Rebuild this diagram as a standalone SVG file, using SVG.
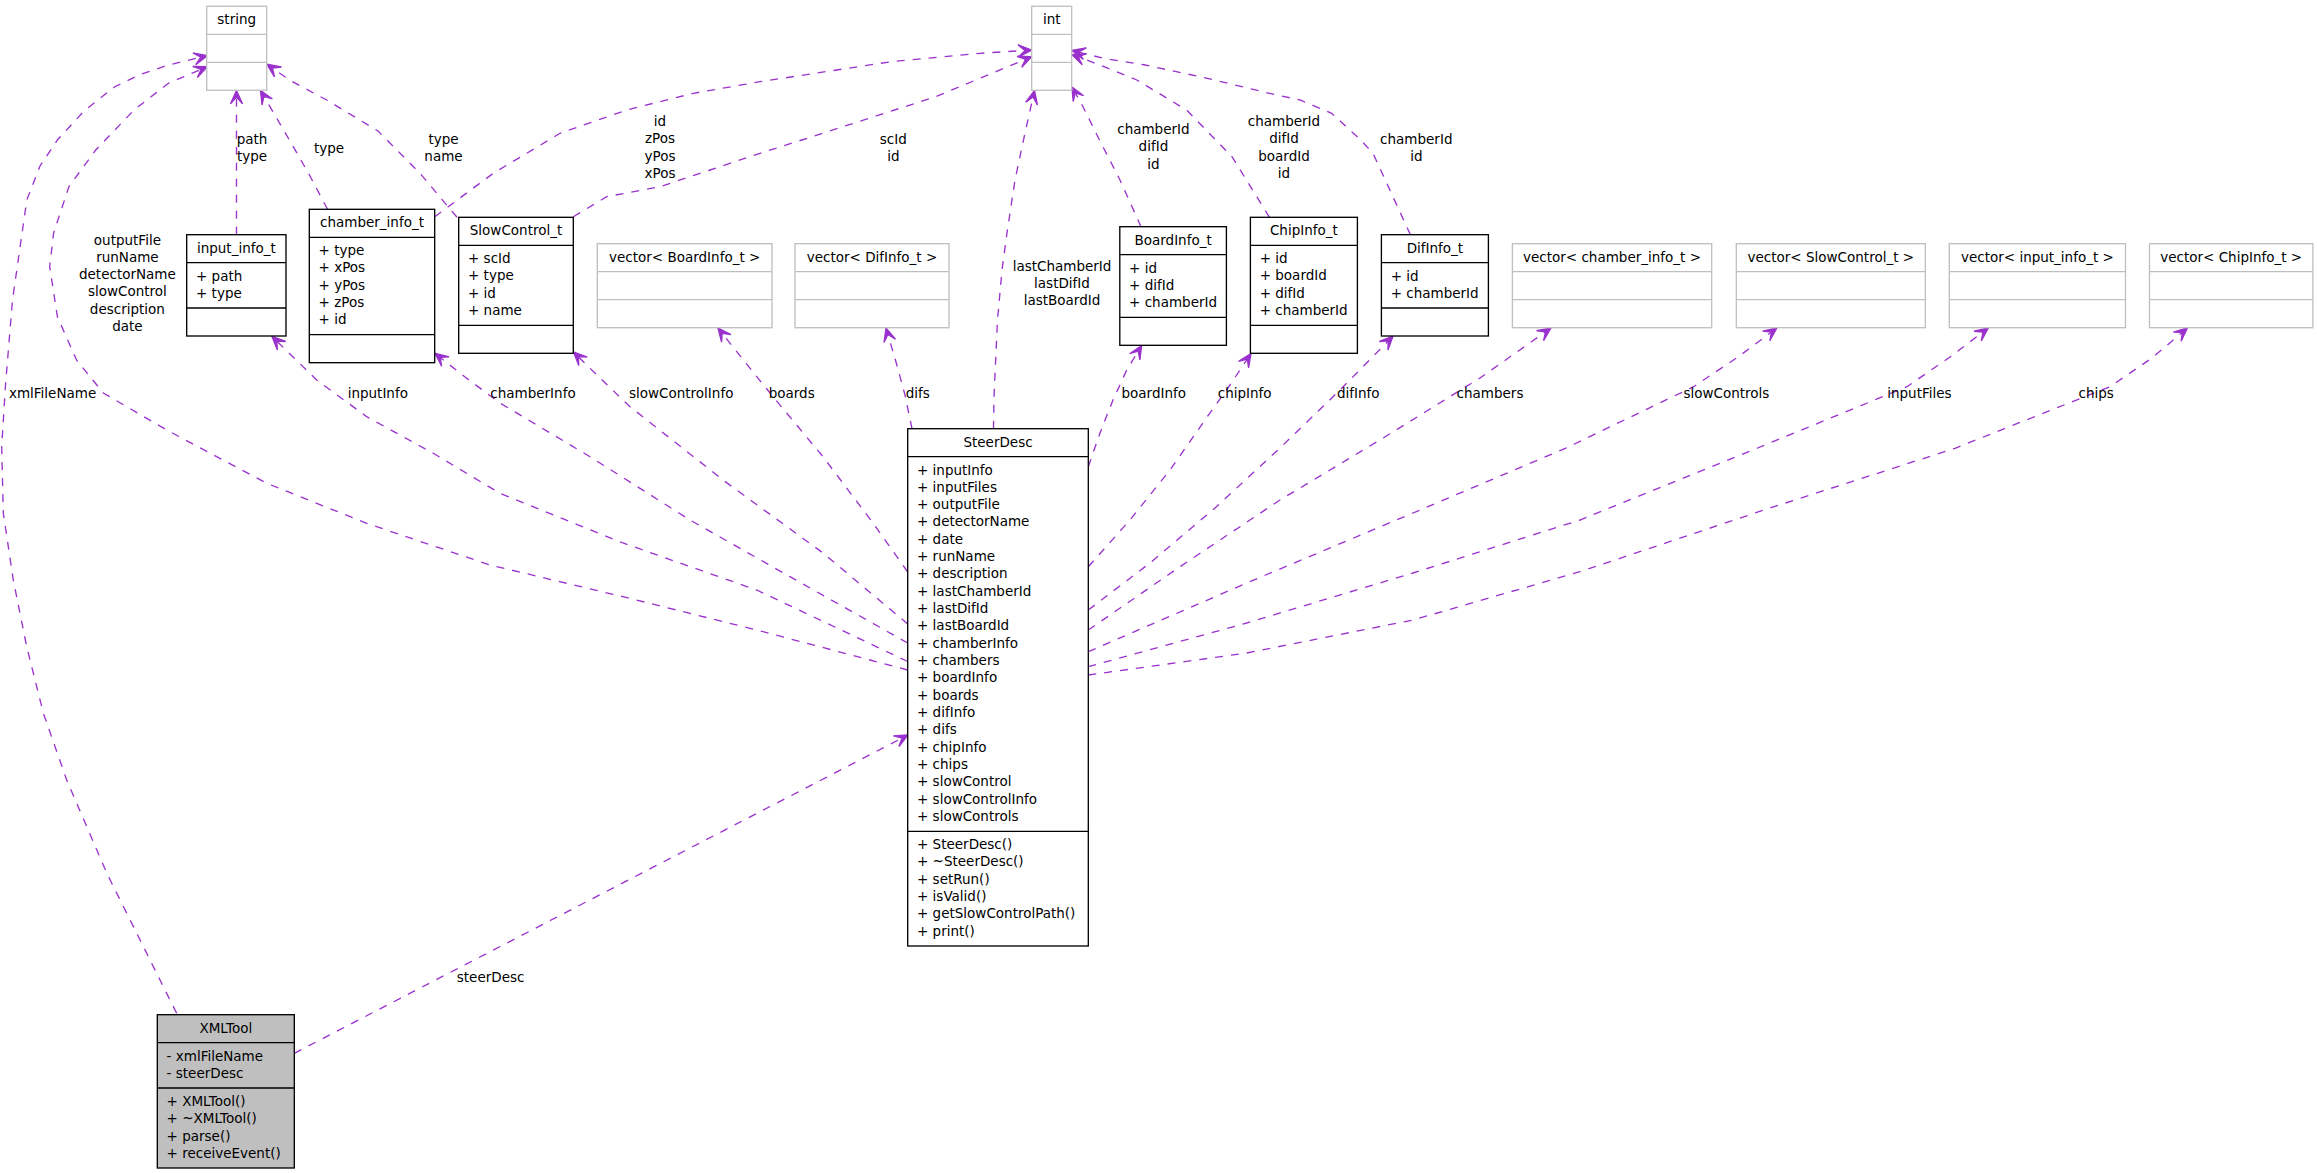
<svg xmlns="http://www.w3.org/2000/svg" width="2317" height="1173" viewBox="0 0 2317 1173">
<defs>
<style>
text{font-family:"DejaVu Sans","Liberation Sans",sans-serif;font-size:13.5px;fill:#000}
.node rect,.node line{fill:#fff;stroke:#000;stroke-width:1.33}
.ext rect,.ext line{stroke:#bfbfbf}
#node-XMLTool rect{fill:#bfbfbf}
.hd{text-anchor:middle}
.edge path{fill:none;stroke:#9a32cd;stroke-width:1.33;stroke-dasharray:8,8;marker-end:url(#vee)}
.edge text{text-anchor:middle}
</style>
<marker id="vee" viewBox="-15 -8 17 16" refX="0" refY="0" markerWidth="17" markerHeight="16" orient="auto" markerUnits="userSpaceOnUse">
<path d="M0,0 L-13.33,-6 L-6.67,0 L-13.33,6 Z" fill="#9a32cd" stroke="#9a32cd" stroke-width="1.33" stroke-dasharray="none"/>
</marker>
</defs>
<rect x="0" y="0" width="2317" height="1173" fill="#fff"/>

<g id="connectors">
<g class="edge" id="e-xmltool-string"><path d="M176.7,1013.3 L170,1000 L106.7,873 L66.7,780 L43.3,713 L26.7,646.7 L13.3,580 L3.3,513 L1.7,446.7 L5.5,385 L12.5,300 L26.8,200 L40,166 L57.4,140 L84,111 L114.8,86.7 L140.5,74.5 L168.4,65 L207.3,55.7"/><text x="52.6" y="398">xmlFileName</text></g>
<g class="edge" id="e-steer-string"><path d="M907.7,670 L756.7,630 L623,596.7 L490,565 L366.7,523.3 L266.7,483.3 L166.7,430 L103.3,393 L76.5,360 L57.4,316.7 L49.7,266.7 L53.6,233 L68.9,186.7 L95.7,150 L134,110 L168.4,83.3 L207.3,66.7"/><text x="127.4" y="244.5"><tspan x="127.4">outputFile</tspan><tspan x="127.4" dy="17.33">runName</tspan><tspan x="127.4" dy="17.33">detectorName</tspan><tspan x="127.4" dy="17.33">slowControl</tspan><tspan x="127.4" dy="17.33">description</tspan><tspan x="127.4" dy="17.33">date</tspan></text></g>
<g class="edge" id="e-input-string"><path d="M236.5,234.7 L236.5,90.5"/><text x="252" y="143.6"><tspan x="252">path</tspan><tspan x="252" dy="17.33">type</tspan></text></g>
<g class="edge" id="e-chamber-string"><path d="M327.5,209.3 L310,176 L293.3,146.7 L276,117 L260.5,90.5"/><text x="329" y="152.6">type</text></g>
<g class="edge" id="e-slow-string"><path d="M457,217.3 L420,173.3 L378,131 L326.7,100 L291,81 L267,64.3"/><text x="443.5" y="143.6"><tspan x="443.5">type</tspan><tspan x="443.5" dy="17.33">name</tspan></text></g>
<g class="edge" id="e-chamber-int"><path d="M434.7,216.7 L493.3,173.3 L560,133.3 L626.7,110 L693.3,93.3 L760,81.7 L891,61.7 L980,53.3 L1031.7,50"/><text x="660" y="126"><tspan x="660">id</tspan><tspan x="660" dy="17.33">zPos</tspan><tspan x="660" dy="17.33">yPos</tspan><tspan x="660" dy="17.33">xPos</tspan></text></g>
<g class="edge" id="e-slow-int"><path d="M573.3,216.7 L606.7,196.7 L660,186.7 L710,170 L760,153.3 L801.8,140 L935.7,96.7 L1031.7,56.7"/><text x="893.3" y="143.6"><tspan x="893.3">scId</tspan><tspan x="893.3" dy="17.33">id</tspan></text></g>
<g class="edge" id="e-steer-int"><path d="M993.5,428.7 L994,397 L997.5,320 L1002,270 L1007,233 L1015,180 L1025,133 L1034.5,90.5"/><text x="1062" y="270.5"><tspan x="1062">lastChamberId</tspan><tspan x="1062" dy="17.33">lastDifId</tspan><tspan x="1062" dy="17.33">lastBoardId</tspan></text></g>
<g class="edge" id="e-board-int"><path d="M1141,226.7 L1120,180 L1099.5,140 L1083,106.7 L1071.9,87"/><text x="1153.4" y="134"><tspan x="1153.4">chamberId</tspan><tspan x="1153.4" dy="17.33">difId</tspan><tspan x="1153.4" dy="17.33">id</tspan></text></g>
<g class="edge" id="e-chip-int"><path d="M1269.5,217.3 L1232,156.7 L1186.6,110 L1136.8,80 L1095.4,63.3 L1071.9,54.5"/><text x="1284" y="126"><tspan x="1284">chamberId</tspan><tspan x="1284" dy="17.33">difId</tspan><tspan x="1284" dy="17.33">boardId</tspan><tspan x="1284" dy="17.33">id</tspan></text></g>
<g class="edge" id="e-dif-int"><path d="M1410.4,234.7 L1373,153.3 L1360.7,140 L1331.7,113.3 L1300,100 L1269.5,93.3 L1207.3,78.3 L1145.1,65 L1103.6,58.3 L1071.9,50.5"/><text x="1416.3" y="143.6"><tspan x="1416.3">chamberId</tspan><tspan x="1416.3" dy="17.33">id</tspan></text></g>
<g class="edge" id="e-steer-input"><path d="M907.7,661.5 L756.7,590 L623,543 L500,493.3 L433.3,453.3 L366.7,416.7 L316.7,380 L272,336.5"/><text x="377.8" y="398">inputInfo</text></g>
<g class="edge" id="e-steer-chamber"><path d="M907.7,643 L790,576.7 L690,520 L590,456.7 L500,403 L465,377 L434.9,353.3"/><text x="533" y="398">chamberInfo</text></g>
<g class="edge" id="e-steer-slow"><path d="M907.7,624 L823,553 L723,480 L630,406.7 L600,378 L573.5,352"/><text x="681.2" y="398">slowControlInfo</text></g>
<g class="edge" id="e-steer-vboard"><path d="M907.7,572 L873,523 L823,456.7 L773,396.7 L745,362 L718,328"/><text x="791.7" y="398">boards</text></g>
<g class="edge" id="e-steer-vdif"><path d="M912,428.7 L905,395 L896,362 L886,328"/><text x="917.8" y="398">difs</text></g>
<g class="edge" id="e-steer-board"><path d="M1088.3,466.7 L1100,433 L1113,400 L1126.7,370 L1141.7,345.5"/><text x="1153.8" y="398">boardInfo</text></g>
<g class="edge" id="e-steer-chip"><path d="M1088.3,566.7 L1130,520 L1170,470 L1205,420 L1230,385 L1251,353.5"/><text x="1244.7" y="398">chipInfo</text></g>
<g class="edge" id="e-steer-dif"><path d="M1088.3,610 L1150,563 L1215,508 L1280,448 L1340,390 L1393,336.2"/><text x="1358.3" y="398">difInfo</text></g>
<g class="edge" id="e-steer-vchamber"><path d="M1088.3,630 L1180,566.7 L1280,500 L1380,440 L1480,378 L1551,328"/><text x="1490" y="398">chambers</text></g>
<g class="edge" id="e-steer-vslow"><path d="M1088.3,651.7 L1246.7,583 L1413,513 L1565.4,448.3 L1693.6,386.7 L1738,357 L1776.9,328"/><text x="1726.4" y="398">slowControls</text></g>
<g class="edge" id="e-steer-vinput"><path d="M1088.3,666.7 L1246.7,623 L1413,573 L1580,520 L1757.6,448 L1907,386.7 L1950,357 L1988.3,328"/><text x="1919.4" y="398">inputFiles</text></g>
<g class="edge" id="e-steer-vchip"><path d="M1088.3,675 L1246.7,653 L1413,620 L1580,571.7 L1770,508 L1955,448.3 L2110,386.7 L2152,358 L2187.4,328"/><text x="2096.2" y="398">chips</text></g>
<g class="edge" id="e-xmltool-steer"><path d="M294.3,1053.3 L908,735"/><text x="490.6" y="981.5">steerDesc</text></g>
</g>

<g id="node-string" class="node ext"><rect x="206.7" y="6.3" width="60" height="84"/><line x1="206.7" y1="34.3" x2="266.7" y2="34.3"/><line x1="206.7" y1="62.3" x2="266.7" y2="62.3"/><text class="hd" x="236.7" y="24.1">string</text></g>

<g id="node-int" class="node ext"><rect x="1031.7" y="6.3" width="40" height="84"/><line x1="1031.7" y1="34.3" x2="1071.7" y2="34.3"/><line x1="1031.7" y1="62.3" x2="1071.7" y2="62.3"/><text class="hd" x="1051.7" y="24.1">int</text></g>

<g id="node-input_info_t" class="node"><rect x="186.7" y="234.7" width="99.3" height="101.3"/><line x1="186.7" y1="262.7" x2="286" y2="262.7"/><line x1="186.7" y1="308" x2="286" y2="308"/><text class="hd" x="236.35" y="252.5">input_info_t</text><text x="196" y="280.5">+ path</text><text x="196" y="297.8">+ type</text></g>

<g id="node-chamber_info_t" class="node"><rect x="309.3" y="209.3" width="125.4" height="153.4"/><line x1="309.3" y1="237.3" x2="434.7" y2="237.3"/><line x1="309.3" y1="334.7" x2="434.7" y2="334.7"/><text class="hd" x="372" y="227.1">chamber_info_t</text><text x="318.6" y="255.1">+ type</text><text x="318.6" y="272.4">+ xPos</text><text x="318.6" y="289.8">+ yPos</text><text x="318.6" y="307.1">+ zPos</text><text x="318.6" y="324.4">+ id</text></g>

<g id="node-SlowControl_t" class="node"><rect x="458.7" y="217.3" width="114.6" height="136"/><line x1="458.7" y1="245.3" x2="573.3" y2="245.3"/><line x1="458.7" y1="325.3" x2="573.3" y2="325.3"/><text class="hd" x="516" y="235.1">SlowControl_t</text><text x="468" y="263.1">+ scId</text><text x="468" y="280.4">+ type</text><text x="468" y="297.8">+ id</text><text x="468" y="315.1">+ name</text></g>

<g id="node-vector-BoardInfo_t" class="node ext"><rect x="597.3" y="243.7" width="174.7" height="84"/><line x1="597.3" y1="271.7" x2="772" y2="271.7"/><line x1="597.3" y1="299.7" x2="772" y2="299.7"/><text class="hd" x="684.65" y="261.5">vector&lt; BoardInfo_t &gt;</text></g>

<g id="node-vector-DifInfo_t" class="node ext"><rect x="795" y="243.7" width="154" height="84"/><line x1="795" y1="271.7" x2="949" y2="271.7"/><line x1="795" y1="299.7" x2="949" y2="299.7"/><text class="hd" x="872" y="261.5">vector&lt; DifInfo_t &gt;</text></g>

<g id="node-SteerDesc" class="node"><rect x="907.7" y="428.7" width="180.6" height="517.3"/><line x1="907.7" y1="456.7" x2="1088.3" y2="456.7"/><line x1="907.7" y1="831.3" x2="1088.3" y2="831.3"/><text class="hd" x="998" y="446.5">SteerDesc</text>
<text x="917" y="474.5"><tspan x="917">+ inputInfo</tspan><tspan x="917" dy="17.333">+ inputFiles</tspan><tspan x="917" dy="17.333">+ outputFile</tspan><tspan x="917" dy="17.333">+ detectorName</tspan><tspan x="917" dy="17.333">+ date</tspan><tspan x="917" dy="17.333">+ runName</tspan><tspan x="917" dy="17.333">+ description</tspan><tspan x="917" dy="17.333">+ lastChamberId</tspan><tspan x="917" dy="17.333">+ lastDifId</tspan><tspan x="917" dy="17.333">+ lastBoardId</tspan><tspan x="917" dy="17.333">+ chamberInfo</tspan><tspan x="917" dy="17.333">+ chambers</tspan><tspan x="917" dy="17.333">+ boardInfo</tspan><tspan x="917" dy="17.333">+ boards</tspan><tspan x="917" dy="17.333">+ difInfo</tspan><tspan x="917" dy="17.333">+ difs</tspan><tspan x="917" dy="17.333">+ chipInfo</tspan><tspan x="917" dy="17.333">+ chips</tspan><tspan x="917" dy="17.333">+ slowControl</tspan><tspan x="917" dy="17.333">+ slowControlInfo</tspan><tspan x="917" dy="17.333">+ slowControls</tspan></text>
<text x="917" y="849.1"><tspan x="917">+ SteerDesc()</tspan><tspan x="917" dy="17.333">+ ~SteerDesc()</tspan><tspan x="917" dy="17.333">+ setRun()</tspan><tspan x="917" dy="17.333">+ isValid()</tspan><tspan x="917" dy="17.333">+ getSlowControlPath()</tspan><tspan x="917" dy="17.333">+ print()</tspan></text></g>

<g id="node-BoardInfo_t" class="node"><rect x="1119.8" y="226.7" width="106.6" height="118.6"/><line x1="1119.8" y1="254.7" x2="1226.4" y2="254.7"/><line x1="1119.8" y1="317.3" x2="1226.4" y2="317.3"/><text class="hd" x="1173.1" y="244.5">BoardInfo_t</text><text x="1129.1" y="272.5">+ id</text><text x="1129.1" y="289.8">+ difId</text><text x="1129.1" y="307.2">+ chamberId</text></g>

<g id="node-ChipInfo_t" class="node"><rect x="1250.4" y="217.3" width="107" height="136"/><line x1="1250.4" y1="245.3" x2="1357.4" y2="245.3"/><line x1="1250.4" y1="325.3" x2="1357.4" y2="325.3"/><text class="hd" x="1303.9" y="235.1">ChipInfo_t</text><text x="1259.7" y="263.1">+ id</text><text x="1259.7" y="280.4">+ boardId</text><text x="1259.7" y="297.8">+ difId</text><text x="1259.7" y="315.1">+ chamberId</text></g>

<g id="node-DifInfo_t" class="node"><rect x="1381.4" y="234.7" width="107" height="101.3"/><line x1="1381.4" y1="262.7" x2="1488.4" y2="262.7"/><line x1="1381.4" y1="308" x2="1488.4" y2="308"/><text class="hd" x="1434.9" y="252.5">DifInfo_t</text><text x="1390.7" y="280.5">+ id</text><text x="1390.7" y="297.8">+ chamberId</text></g>

<g id="node-vector-chamber_info_t" class="node ext"><rect x="1512.4" y="243.7" width="199.3" height="84"/><line x1="1512.4" y1="271.7" x2="1711.7" y2="271.7"/><line x1="1512.4" y1="299.7" x2="1711.7" y2="299.7"/><text class="hd" x="1612" y="261.5">vector&lt; chamber_info_t &gt;</text></g>

<g id="node-vector-SlowControl_t" class="node ext"><rect x="1736.3" y="243.7" width="189" height="84"/><line x1="1736.3" y1="271.7" x2="1925.3" y2="271.7"/><line x1="1736.3" y1="299.7" x2="1925.3" y2="299.7"/><text class="hd" x="1830.8" y="261.5">vector&lt; SlowControl_t &gt;</text></g>

<g id="node-vector-input_info_t" class="node ext"><rect x="1949.3" y="243.7" width="176.2" height="84"/><line x1="1949.3" y1="271.7" x2="2125.5" y2="271.7"/><line x1="1949.3" y1="299.7" x2="2125.5" y2="299.7"/><text class="hd" x="2037.4" y="261.5">vector&lt; input_info_t &gt;</text></g>

<g id="node-vector-ChipInfo_t" class="node ext"><rect x="2149.5" y="243.7" width="163.4" height="84"/><line x1="2149.5" y1="271.7" x2="2312.9" y2="271.7"/><line x1="2149.5" y1="299.7" x2="2312.9" y2="299.7"/><text class="hd" x="2231.2" y="261.5">vector&lt; ChipInfo_t &gt;</text></g>

<g id="node-XMLTool" class="node"><rect x="157.3" y="1014.7" width="137" height="153.3"/><line x1="157.3" y1="1042.7" x2="294.3" y2="1042.7"/><line x1="157.3" y1="1088" x2="294.3" y2="1088"/><text class="hd" x="225.8" y="1032.5">XMLTool</text><text x="166.6" y="1060.5">- xmlFileName</text><text x="166.6" y="1077.8">- steerDesc</text><text x="166.6" y="1105.8">+ XMLTool()</text><text x="166.6" y="1123.1">+ ~XMLTool()</text><text x="166.6" y="1140.5">+ parse()</text><text x="166.6" y="1157.8">+ receiveEvent()</text></g>
</svg>
